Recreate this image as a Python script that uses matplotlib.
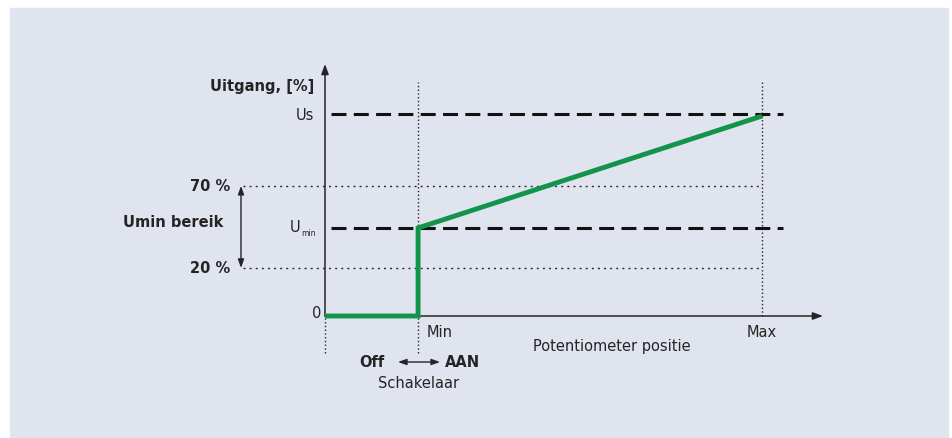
import matplotlib.pyplot as plt
from matplotlib.patches import Rectangle

# schematic values (arbitrary units, Max = 10, Us = 10)
x_min = 2.13
x_max = 10.0
y_20 = 2.38
y_umin = 4.36
y_70 = 6.44
y_us = 10.0
y_end = 9.9

green_x = [0, x_min, x_min, x_max]
green_y = [0, 0, y_umin, y_end]

ink = "#262324"
green = "#12944a"
bg = "#e0e4ee"


def main():
    fig = plt.figure(figsize=(9.52, 4.39), dpi=100)
    ax = fig.add_axes([0, 0, 1, 1])
    ax.set_xlim(-325 / 43.7, (952 - 325) / 43.7)
    ax.set_ylim((317 - 439) / 20.2, 317 / 20.2)
    ax.axis("off")
    ax.add_patch(Rectangle((10 / 952, 0), 938 / 952, 430 / 439,
                           transform=fig.transFigure, color=bg, zorder=0))

    px = 1 / 43.7
    py = 1 / 20.2

    # dotted guides
    hdot = dict(color=ink, lw=1.0, ls=(0, (1.4, 3.0)), zorder=1)
    vdot = dict(color=ink, lw=1.0, ls=(0, (1.0, 1.7)), zorder=1)
    ax.plot([-82 * px, x_max], [y_70, y_70], **hdot)
    ax.plot([-82 * px, x_max], [y_20, y_20], **hdot)
    ax.plot([x_min, x_min], [-37 * py, 234 * py], **vdot)
    ax.plot([x_max, x_max], [0, 234 * py], **vdot)
    ax.plot([0, 0], [-37 * py, 0], **vdot)

    # dashed levels
    for lvl in (y_us, y_umin):
        ax.plot([6 * px, 458 * px], [lvl, lvl], color="#111111", lw=2.2,
                dashes=(4.9, 2.4), dash_capstyle="butt", zorder=2)

    # axes with arrows
    ax.annotate("", xy=(0, 252 * py), xytext=(0, 0),
                arrowprops=dict(arrowstyle="-|>,head_length=0.6,head_width=0.22",
                                color=ink, lw=1.1, shrinkA=0, shrinkB=0), zorder=3)
    ax.annotate("", xy=(498 * px, 0), xytext=(0, 0),
                arrowprops=dict(arrowstyle="-|>,head_length=0.6,head_width=0.22",
                                color=ink, lw=1.1, shrinkA=0, shrinkB=0), zorder=3)

    # green characteristic
    ax.plot(green_x, green_y, color=green, lw=3.5, solid_joinstyle="miter",
            solid_capstyle="butt", zorder=4)

    # Umin range double arrow
    ax.annotate("", xy=(-84 * px, y_70), xytext=(-84 * px, y_20),
                arrowprops=dict(arrowstyle="<|-|>,head_length=0.5,head_width=0.18",
                                color=ink, lw=1.0, shrinkA=0, shrinkB=0))

    # switch double arrow
    ax.annotate("", xy=(115 * px, -46 * py), xytext=(73 * px, -46 * py),
                arrowprops=dict(arrowstyle="<|-|>,head_length=0.5,head_width=0.18",
                                color=ink, lw=1.0, shrinkA=0, shrinkB=0))

    fs = 10.5
    t = dict(color=ink, fontsize=fs, family="DejaVu Sans")
    ax.text(-11 * px, 230 * py, "Uitgang, [%]", ha="right", va="center",
            fontweight="bold", **t)
    ax.text(-11 * px, y_us, "Us", ha="right", va="center", **t)
    ax.text(-95 * px, y_70, "70 %", ha="right", va="center", fontweight="bold", **t)
    ax.text(-95 * px, y_20, "20 %", ha="right", va="center", fontweight="bold", **t)
    ax.text(-102 * px, 94 * py, "Umin bereik", ha="right", va="center",
            fontweight="bold", **t)
    ax.text(-35 * px, y_umin + 1 * py, "U", ha="left", va="center", **t)
    ax.text(-24 * px, y_umin - 5 * py, "min", ha="left", va="center",
            color=ink, fontsize=5.5)
    ax.text(-4 * px, 3 * py, "0", ha="right", va="center", **t)
    ax.text(x_min + 9 * px, -16 * py, "Min", ha="left", va="center", **t)
    ax.text(x_max, -16 * py, "Max", ha="center", va="center", **t)
    ax.text(287 * px, -30 * py, "Potentiometer positie", ha="center", va="center", **t)
    ax.text(59 * px, -46 * py, "Off", ha="right", va="center", fontweight="bold", **t)
    ax.text(120 * px, -46 * py, "AAN", ha="left", va="center", fontweight="bold", **t)
    ax.text(x_min, -67 * py, "Schakelaar", ha="center", va="center", **t)

    fig.savefig("out.png", dpi=100, facecolor="white")


if __name__ == "__main__":
    main()
